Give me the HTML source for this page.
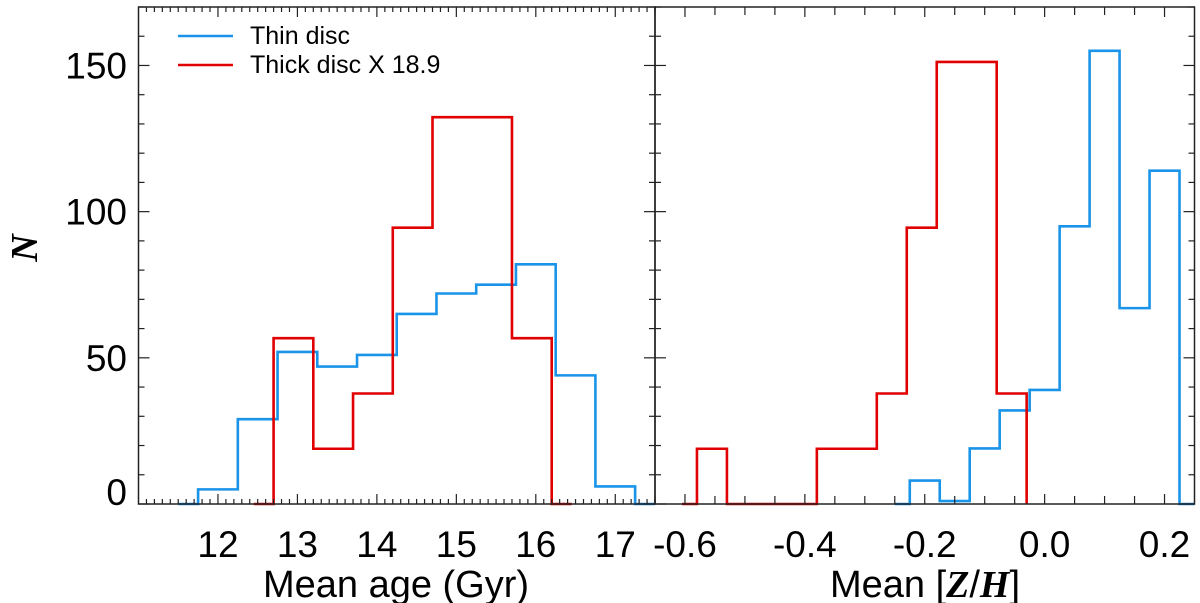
<!DOCTYPE html>
<html><head><meta charset="utf-8"><style>
html,body{margin:0;padding:0;background:#fff;}
</style></head><body>
<svg id="chart" width="1200" height="603" viewBox="0 0 1200 603" xmlns="http://www.w3.org/2000/svg" style="position:absolute;left:0;top:0;font-family:'Liberation Sans',sans-serif"></svg>
<script>
// Left panel: mean age (Gyr)
const ageThinEdges = [11.75,12.25,12.75,13.25,13.75,14.25,14.75,15.25,15.75,16.25,16.75,17.25];
const ageThinCounts = [5,29,52,47,51,65,72,75,82,44,6];
const ageThickEdges = [12.7,13.2,13.7,14.2,14.7,15.2,15.7,16.2];
const ageThickCounts = [56.7,18.9,37.8,94.5,132.3,132.3,56.7];
// Right panel: mean [Z/H]
const zhThinEdges = [-0.225,-0.175,-0.125,-0.075,-0.025,0.025,0.075,0.125,0.175,0.225];
const zhThinCounts = [8,1,19,32,39,95,155,67,114];
const zhThickEdges = [-0.58,-0.53,-0.48,-0.43,-0.38,-0.33,-0.28,-0.23,-0.18,-0.13,-0.08,-0.03];
const zhThickCounts = [18.9,0,0,0,18.9,18.9,37.8,94.5,151.2,151.2,37.8,0];
const yTicks = [0,50,100,150];
const ageTicks = [12,13,14,15,16,17];
const zhTicks = [-0.6,-0.4,-0.2,0.0,0.2];
const zhTickLabels = ["-0.6","-0.4","-0.2","0.0","0.2"];

const svg = document.getElementById('chart');
const NS = 'http://www.w3.org/2000/svg';
const TOP = 7, BOT = 504, YMAX = 170;
function yS(v){ return BOT - v*(BOT-TOP)/YMAX; }
const L = {x0:138.5, x1:655, d0:11, d1:17.5};
const R = {x0:655, x1:1194.5, d0:-0.65, d1:0.25};
function xS(p, v){ return p.x0 + (v-p.d0)*(p.x1-p.x0)/(p.d1-p.d0); }
function mk(tag, attrs){ const e=document.createElementNS(NS,tag); for(const k in attrs) e.setAttribute(k,attrs[k]); svg.appendChild(e); return e; }

function stepPath(p, edges, counts, padL, padR){
  let d = 'M'+xS(p,edges[0]-padL)+','+yS(0)+' L'+xS(p,edges[0])+','+yS(0);
  for(let i=0;i<counts.length;i++){
    d += ' L'+xS(p,edges[i])+','+yS(counts[i])+' L'+xS(p,edges[i+1])+','+yS(counts[i]);
  }
  const last = edges[edges.length-1];
  d += ' L'+xS(p,last)+','+yS(0)+' L'+Math.min(p.x1,xS(p,last+padR))+','+yS(0);
  return d;
}

let e;
e = mk('path',{d:stepPath(L,ageThinEdges,ageThinCounts,0.25,0.25),fill:'none',stroke:'#1a94e8','stroke-width':2.6});


e = mk('path',{d:stepPath(L,ageThickEdges,ageThickCounts,0.25,0.25),fill:'none',stroke:'#e00000','stroke-width':2.6});


e = mk('path',{d:stepPath(R,zhThinEdges,zhThinCounts,0.025,0.025),fill:'none',stroke:'#1a94e8','stroke-width':2.6});


e = mk('path',{d:stepPath(R,zhThickEdges,zhThickCounts,0.025,0.025),fill:'none',stroke:'#e00000','stroke-width':2.6});



e = mk('rect',{x:L.x0,y:TOP,width:L.x1-L.x0,height:BOT-TOP,fill:'none',stroke:'#222','stroke-width':1.5});


e = mk('rect',{x:R.x0,y:TOP,width:R.x1-R.x0,height:BOT-TOP,fill:'none',stroke:'#222','stroke-width':1.5});



function tick(x1,y1,x2,y2){ mk('line',{x1:x1,y1:y1,x2:x2,y2:y2,stroke:'#222','stroke-width':1.2}); }
for(let v=0; v<=YMAX; v+=10){
  const y=yS(v), maj = v%50===0, len = maj?11:6;
  tick(L.x0,y,L.x0+len,y); tick(L.x1,y,L.x1-len,y);
  tick(R.x0,y,R.x0+len,y); tick(R.x1,y,R.x1-len,y);
}
for(let k=111;k<=175;k++){
  const v=k/10, x=xS(L,v), maj = k%10===0, len=maj?10:5;
  tick(x,BOT,x,BOT-len); tick(x,TOP,x,TOP+len);
}
for(let k=-13;k<=4;k++){
  const v=k*0.05, x=xS(R,v), maj=(k%4===0), len=maj?10:8;
  tick(x,BOT,x,BOT-len); tick(x,TOP,x,TOP+len);
}

yTicks.forEach(v=>{
  const t = mk('text',{x:127,y:(v===0? yS(v)+1 : yS(v)+13),'text-anchor':'end','font-size':37});
  t.textContent = v;
  
  
});
ageTicks.forEach(v=>{
  const t = mk('text',{x:xS(L,v),y:557,'text-anchor':'middle','font-size':37});
  t.textContent = v;
  
  
});
zhTicks.forEach((v,i)=>{
  const t = mk('text',{x:xS(R,v),y:557,'text-anchor':'middle','font-size':37});
  t.textContent = zhTickLabels[i];
  
  
});
</script>
<svg style="position:absolute;left:0;top:0" width="1200" height="603" xmlns="http://www.w3.org/2000/svg">
  <g>
    <line x1="178" y1="36" x2="233" y2="36" stroke="#1a94e8" stroke-width="2.6"/>
    <text x="250" y="44" style="font-size:25px;font-family:'Liberation Sans',sans-serif">Thin disc</text>
    <line x1="178" y1="65" x2="233" y2="65" stroke="#e00000" stroke-width="2.6"/>
    <text x="250" y="73" style="font-size:25px;font-family:'Liberation Sans',sans-serif">Thick disc X 18.9</text>
  </g>
  <text x="396" y="597" text-anchor="middle" style="font-size:38px;font-family:'Liberation Sans',sans-serif">Mean age (Gyr)</text>
  <text x="925" y="597" text-anchor="middle" style="font-size:38px;font-family:'Liberation Sans',sans-serif">Mean [<tspan style="font-family:'Liberation Serif',serif;font-style:italic;font-weight:bold">Z</tspan>/<tspan style="font-family:'Liberation Serif',serif;font-style:italic;font-weight:bold">H</tspan>]</text>
  <text transform="translate(37,248) rotate(-90)" text-anchor="middle" style="font-size:38px;font-family:'Liberation Serif',serif;font-style:italic;font-weight:bold">N</text>
</svg>
</body></html>
